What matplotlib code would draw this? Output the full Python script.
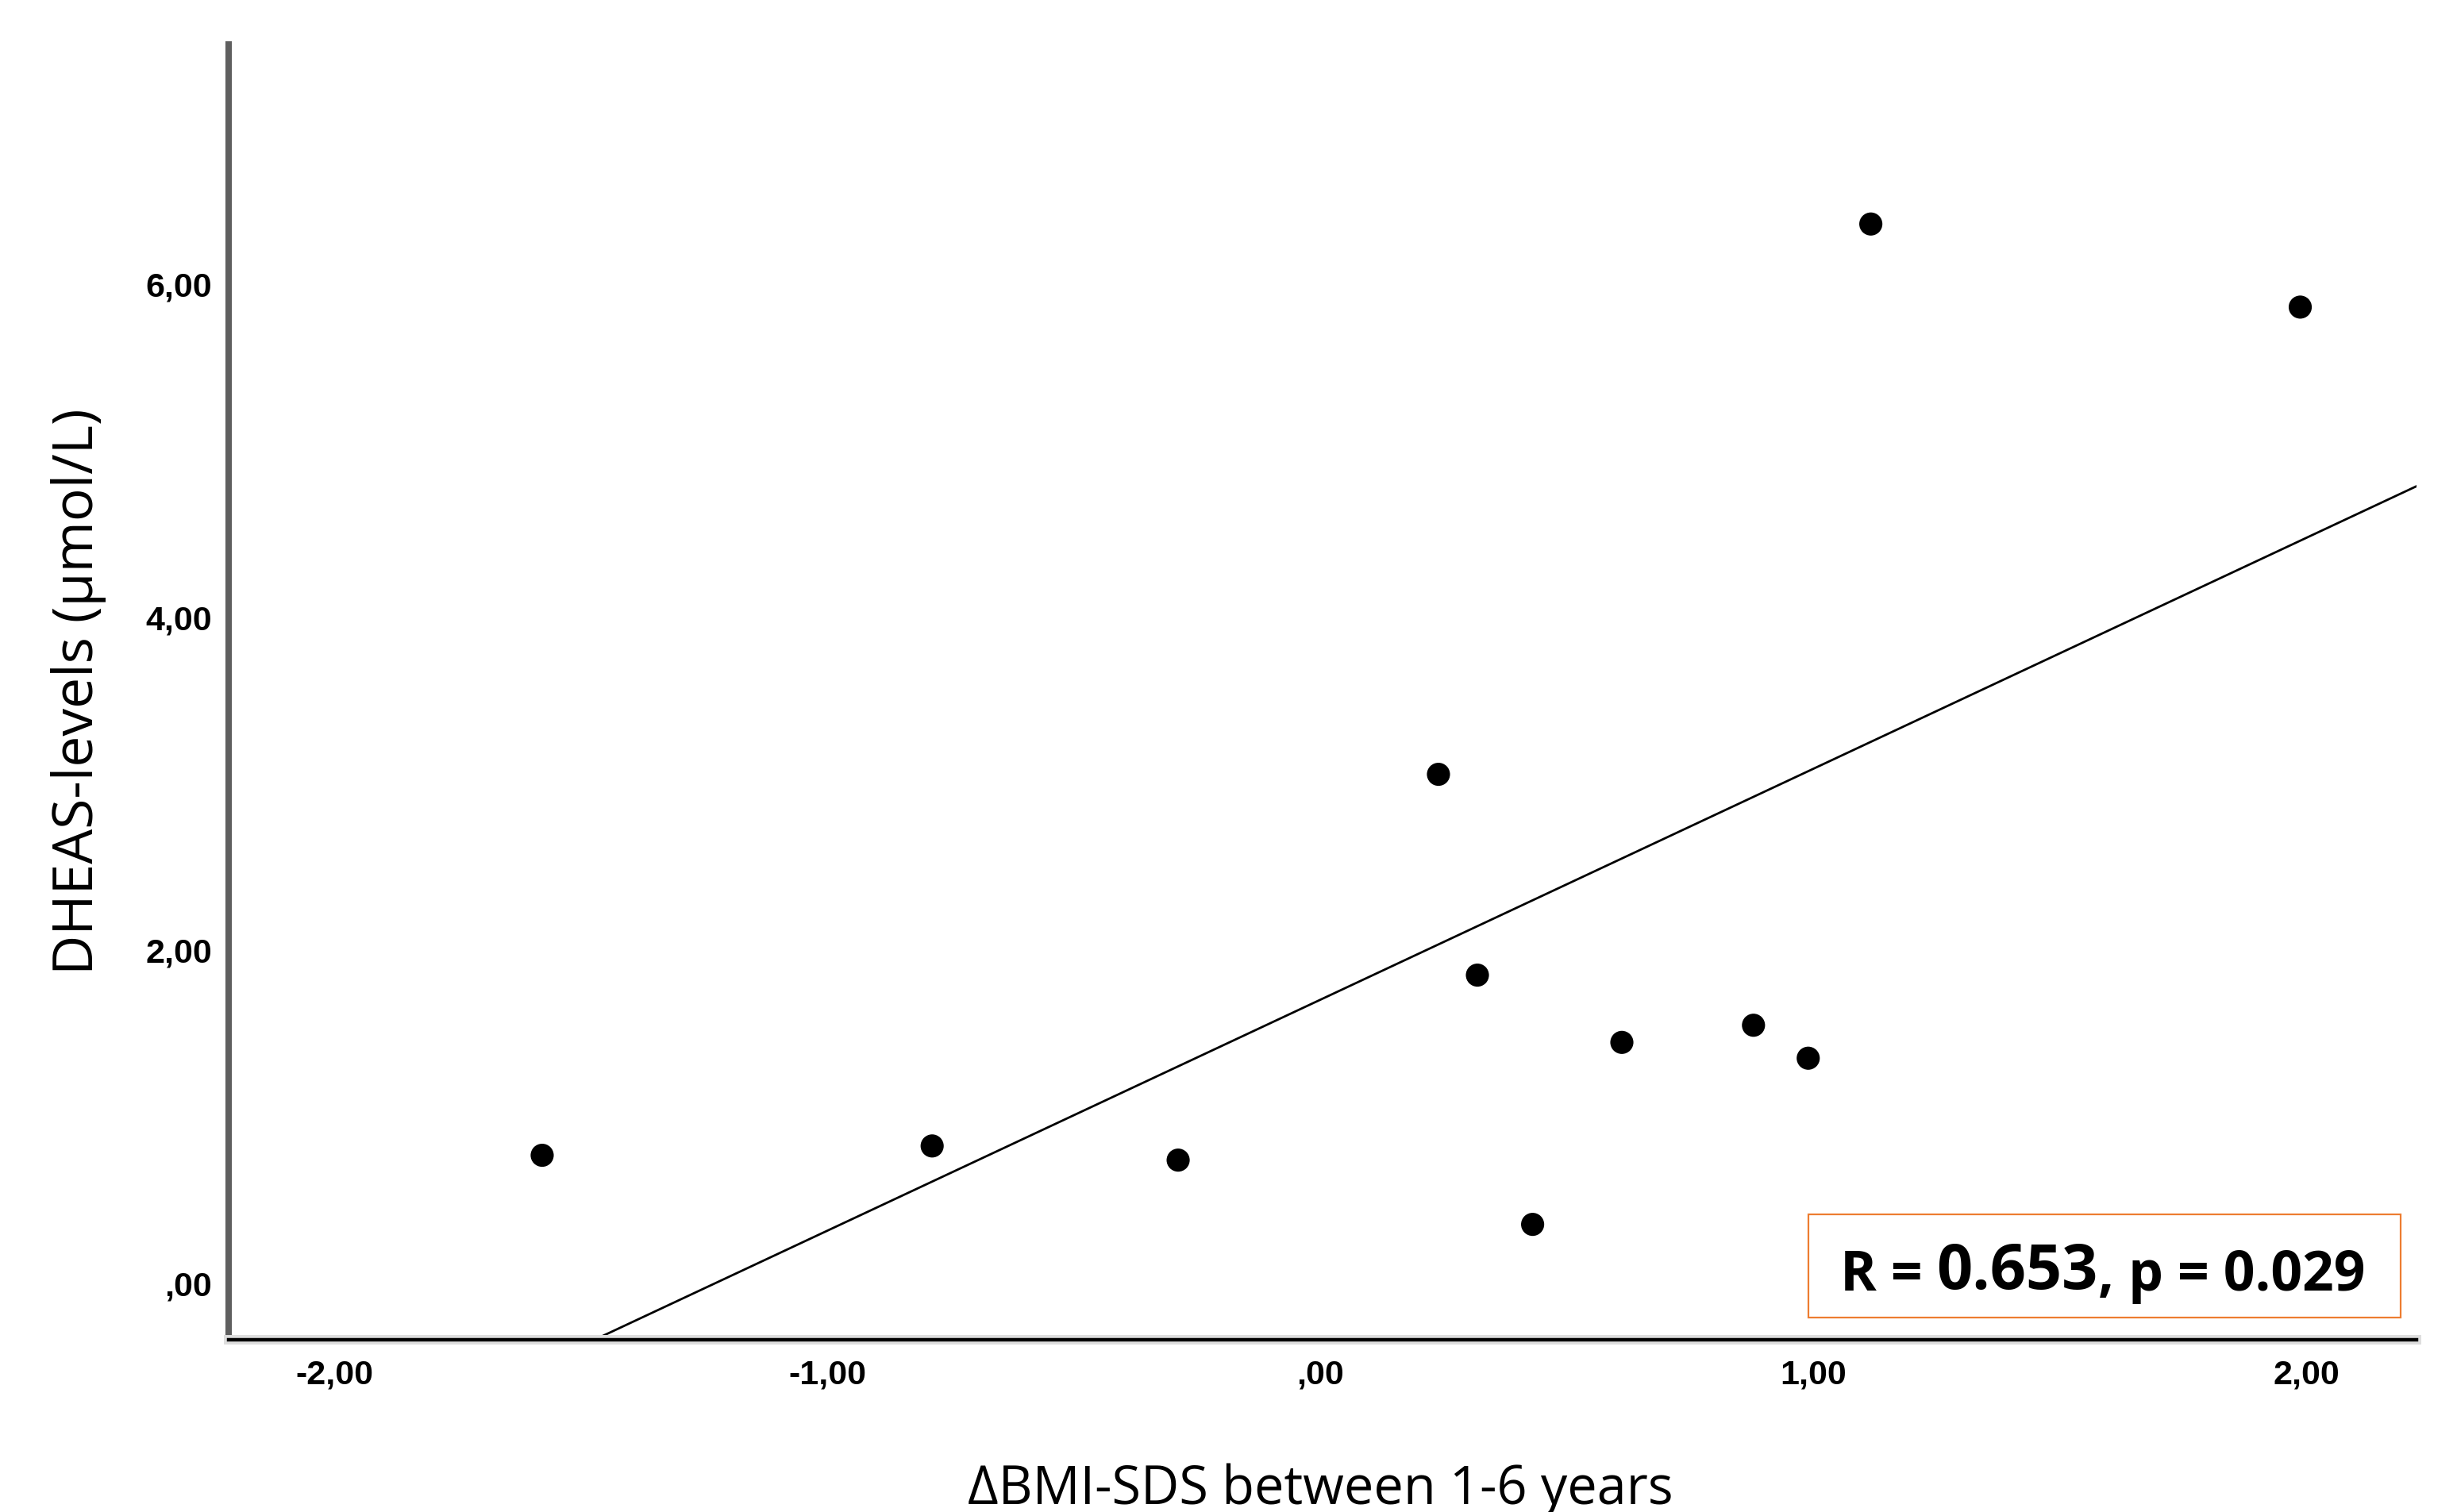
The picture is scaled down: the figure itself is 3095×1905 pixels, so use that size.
import numpy as np
import matplotlib
matplotlib.use("Agg")
import matplotlib.pyplot as plt
from matplotlib.patches import Rectangle
import matplotlib.patheffects as pe

# values
bmi_sds_change = [-1.578, -0.787, -0.288, 0.240, 0.319, 0.431, 0.612, 0.879, 0.990, 1.117, 1.988]
dheas = [0.765, 0.821, 0.736, 3.053, 1.847, 0.350, 1.443, 1.546, 1.348, 6.358, 5.859]

x_ticks = [-2, -1, 0, 1, 2]
x_tick_labels = ["-2,00", "-1,00", ",00", "1,00", "2,00"]
y_ticks = [0, 2, 4, 6]
y_tick_labels = [",00", "2,00", "4,00", "6,00"]

r_text = "0.653"
p_text = "0.029"

fig = plt.figure(figsize=(30.95, 19.06), dpi=100)
ax = fig.add_axes([0.09305, 0.11385, 0.8905, 0.8562])

x = np.array(bmi_sds_change)
y = np.array(dheas)
ax.scatter(x, y, s=440, c="black", edgecolors="none", zorder=3)

# least squares fit line
slope, intercept = np.polyfit(x, y, 1)
xlim = (-2.214, 2.224)
ylim = (-0.343, 7.436)
xs = np.array(xlim)
ax.plot(xs, slope * xs + intercept, color="black", lw=2.0, zorder=2)

ax.set_xlim(xlim)
ax.set_ylim(ylim)

ax.set_xticks(x_ticks)
ax.set_xticklabels(x_tick_labels)
ax.set_yticks(y_ticks)
ax.set_yticklabels(y_tick_labels)
ax.tick_params(axis="both", length=0, labelsize=31)
ax.tick_params(axis="x", pad=17)
ax.tick_params(axis="y", pad=15)
for lab in ax.get_xticklabels() + ax.get_yticklabels():
    lab.set_family("Liberation Sans")
    lab.set_weight("bold")

ax.spines["top"].set_visible(False)
ax.spines["right"].set_visible(False)
ax.spines["left"].set_color("#5f5f5f")
ax.spines["left"].set_linewidth(5.8)
ax.spines["bottom"].set_color("black")
ax.spines["bottom"].set_linewidth(3.2)
ax.spines["bottom"].set_path_effects([pe.Stroke(linewidth=8.6, foreground="#dedede"), pe.Normal()])

fig.text(1663 / 3095, 1 - 1895 / 1906, "\u0394BMI-SDS between 1-6 years",
         family="Open Sans", fontsize=48, ha="center", va="baseline")
fig.text(99 / 3095, 1 - 871 / 1906, "DHEAS-levels (\u00b5mol/L)",
         family="Open Sans", fontsize=50, ha="center", va="center", rotation=90)

# correlation box
ax.add_patch(Rectangle((0.7221, 0.01716), 0.2707, 0.0797, transform=ax.transAxes,
                       facecolor="white", edgecolor="#ED7D31", lw=1.6, zorder=4))
t1 = ax.text(0.7365, 0.0386, "R = ", transform=ax.transAxes, family="Open Sans",
             weight="bold", fontsize=50, ha="left", va="baseline", zorder=5)
t2 = ax.annotate(r_text, xy=(1, 0), xycoords=t1, family="Open Sans", weight="bold",
                 fontsize=57, ha="left", va="bottom", zorder=5)
t3 = ax.annotate(", p = " + p_text, xy=(1, 0), xycoords=t2, family="Open Sans",
                 weight="bold", fontsize=50, ha="left", va="bottom", zorder=5)

fig.savefig("out.png", dpi=100, facecolor="white")
